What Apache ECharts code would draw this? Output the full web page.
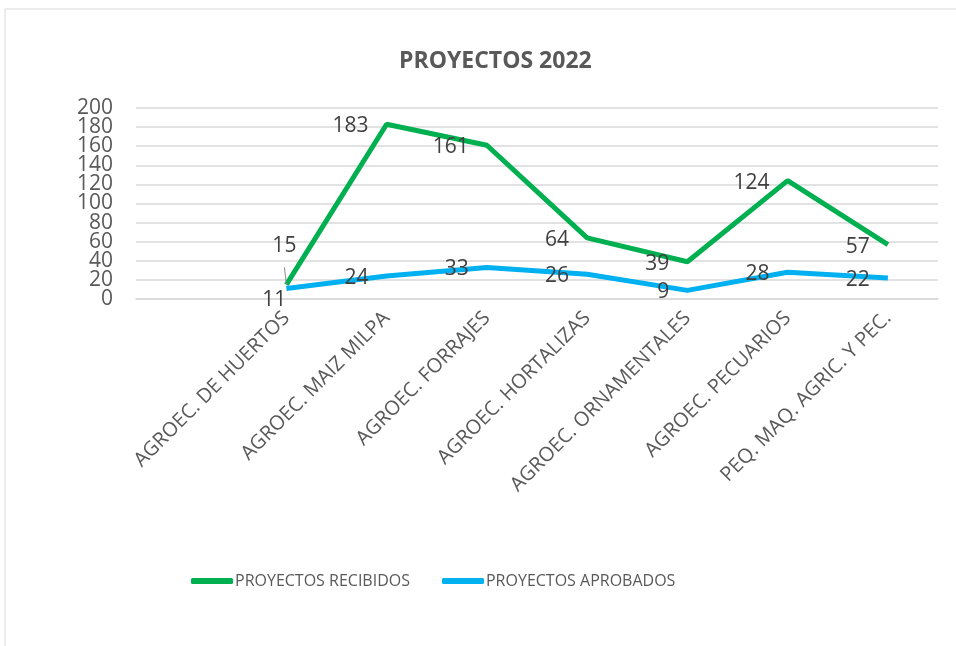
<!DOCTYPE html>
<html>
<head>
<meta charset="utf-8">
<script src="https://cdn.jsdelivr.net/npm/echarts@6/dist/echarts.min.js"></script>
<style>
  html, body { margin: 0; padding: 0; background: #fff; }
  #chart { width: 956px; height: 646px; }
</style>
</head>
<body>
<div id="chart"></div>
<script>
// first slot is left blank in the source sheet
var categories = ['', 'AGROEC. DE HUERTOS', 'AGROEC. MAIZ MILPA', 'AGROEC. FORRAJES', 'AGROEC. HORTALIZAS',
  'AGROEC. ORNAMENTALES', 'AGROEC. PECUARIOS', 'PEQ. MAQ. AGRIC. Y PEC.']
var recibidos = [null, 15, 183, 161, 64, 39, 124, 57]
var aprobados = [null, 11, 24, 33, 26, 9, 28, 22]
var seriesNames = ['PROYECTOS RECIBIDOS', 'PROYECTOS APROBADOS']
var yMin = 0
var yMax = 200
var yStep = 20

var font = 'Open Sans'
var myChart = echarts.init(document.getElementById('chart'))

function labelData(values, special) {
  return values.map(function (v, i) {
    if (special && special[i]) {
      return Object.assign({ value: v }, special[i])
    }
    return v
  })
}

var dataLabel = {
  show: true,
  position: 'left',
  distance: 18,
  offset: [0, 2],
  fontFamily: font,
  fontSize: 21,
  color: '#404040'
}

var yLabel = {
  margin: 23,
  fontFamily: font,
  fontSize: 21,
  color: '#595959'
}

// labels are packed tighter than echarts allows on one axis,
// so odd and even ticks are split over two overlapping axes
var option = {
  animation: false,
  graphic: [{
    type: 'rect',
    shape: { x: 5, y: 9, width: 1000, height: 700 },
    style: { fill: 'none', stroke: '#d9d9d9', lineWidth: 1 }
  }],
  title: {
    text: 'PROYECTOS 2022',
    left: 394,
    top: 45,
    textStyle: {
      fontFamily: font,
      fontSize: 23,
      fontWeight: 'bold',
      color: '#595959'
    }
  },
  legend: {
    left: 186,
    top: 568,
    itemWidth: 42,
    itemHeight: 6,
    itemGap: 32,
    icon: 'roundRect',
    textStyle: {
      fontFamily: font,
      fontSize: 16,
      color: '#595959',
      padding: [0, 0, 0, -3]
    },
    data: seriesNames
  },
  grid: {
    left: 136,
    right: 18,
    top: 108,
    bottom: 347,
    containLabel: false,
    outerBoundsMode: 'none'
  },
  xAxis: {
    type: 'category',
    data: categories,
    boundaryGap: true,
    axisTick: { show: false },
    axisLine: { lineStyle: { color: '#d9d9d9', width: 1.5 } },
    axisLabel: {
      interval: 0,
      rotate: 45,
      margin: 16,
      fontFamily: font,
      fontSize: 20,
      color: '#595959'
    }
  },
  yAxis: [
    {
      type: 'value',
      position: 'left',
      min: yMin,
      max: yMax,
      interval: yStep * 2,
      axisLine: { show: false },
      axisTick: { show: false },
      axisLabel: Object.assign({ showMinLabel: true, showMaxLabel: true }, yLabel),
      splitLine: { show: false }
    },
    {
      type: 'value',
      position: 'left',
      offset: 0,
      min: yMin,
      max: yMax,
      interval: yStep,
      axisLine: { show: false },
      axisTick: { show: false },
      axisLabel: Object.assign({
        formatter: function (v) { return v % (yStep * 2) === 0 ? '' : String(v) }
      }, yLabel),
      splitLine: { lineStyle: { color: '#d9d9d9', width: 1.5 } }
    }
  ],
  series: [
    {
      type: 'line',
      name: seriesNames[0],
      data: labelData(recibidos, {
        1: {
          label: { position: 'top', distance: 28, offset: [-2, 0] },
          labelLine: { show: true, lineStyle: { color: '#8c8c8c', width: 1 } }
        }
      }),
      symbol: 'circle',
      symbolSize: 0,
      lineStyle: { color: '#00B050', width: 5 },
      itemStyle: { color: '#00B050' },
      label: dataLabel
    },
    {
      type: 'line',
      name: seriesNames[1],
      data: labelData(aprobados, {
        1: { label: { position: 'left', distance: 0, offset: [0, 12] } }
      }),
      symbol: 'circle',
      symbolSize: 0,
      lineStyle: { color: '#00B0F0', width: 5 },
      itemStyle: { color: '#00B0F0' },
      label: dataLabel
    }
  ]
}

myChart.setOption(option)
</script>
</body>
</html>
